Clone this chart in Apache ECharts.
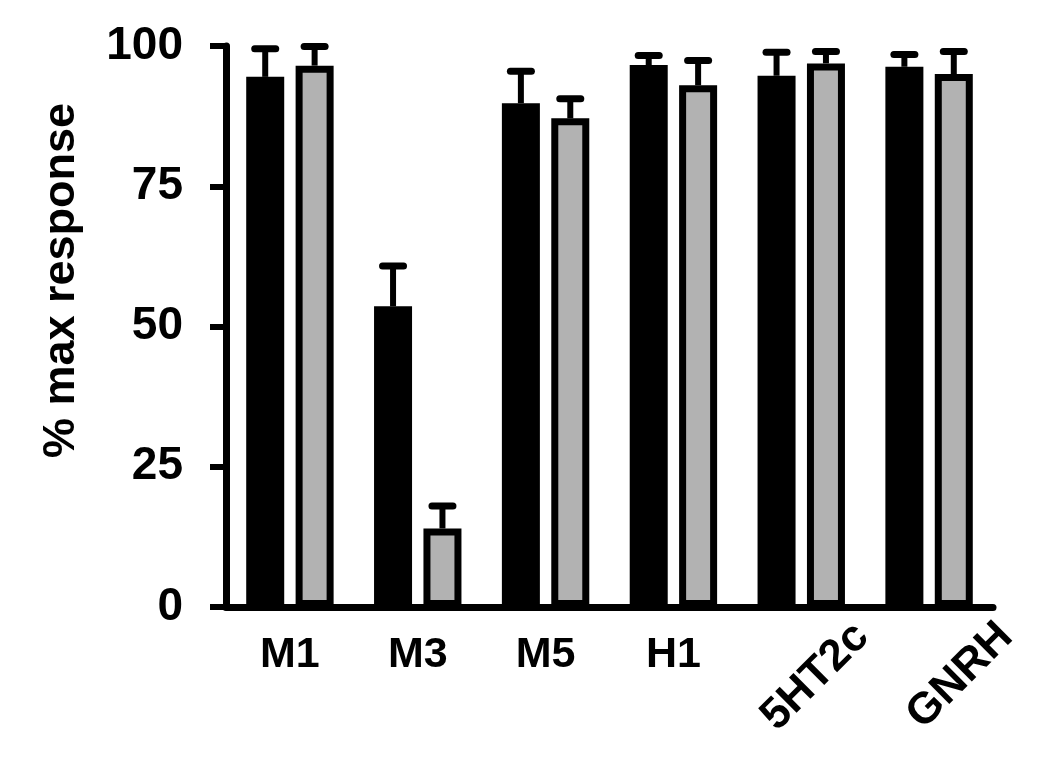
<!DOCTYPE html>
<html>
<head>
<meta charset="utf-8">
<script src="https://cdn.jsdelivr.net/npm/echarts@6/dist/echarts.min.js"></script>
<style>
html,body{margin:0;padding:0;background:#fff;}
#chart{width:1050px;height:767px;}
</style>
</head>
<body>
<div id="chart"></div>
<script>
// ---- data ----
const categories = ['M1', 'M3', 'M5', 'H1', '5HT2c', 'GNRH'];
const rotatedLabels = ['5HT2c', 'GNRH'];
const blackValues = [94.5, 53.6, 89.8, 96.6, 94.7, 96.3];
const grayValues  = [96.5, 14.0, 87.1, 93.0, 96.9, 95.0];
const blackErrTop = [99.5, 60.8, 95.5, 98.3, 98.9, 98.5];
const grayErrTop  = [99.9, 18.0, 90.6, 97.4, 99.0, 99.0];
const yMin = 0, yMax = 100, yStep = 25;

// ---- style constants ----
const BAR_W = 38, BAR_GAP = 0.3, BORDER = 7;
const GRAY = '#b2b2b2';
const FONT = 'Liberation Sans';

const chart = echarts.init(document.getElementById('chart'), null, {renderer: 'canvas'});

function errSeries(values, tops, side) {
  return {
    type: 'custom',
    xAxisIndex: 0, yAxisIndex: 0,
    z: 5,
    silent: true,
    data: values.map((v, i) => [i, v, tops[i]]),
    encode: {x: 0, y: [1, 2]},
    renderItem: function (params, api) {
      const idx = api.value(0);
      const lo = api.coord([idx, api.value(1)]);
      const hi = api.coord([idx, api.value(2)]);
      const off = side * BAR_W * (1 + BAR_GAP) / 2;
      const cx = lo[0] + off;
      return {
        type: 'group',
        children: [
          {type: 'line', shape: {x1: cx, y1: lo[1], x2: cx, y2: hi[1]},
           style: {stroke: '#000', lineWidth: 6}},
          {type: 'line', shape: {x1: cx - 10.5, y1: hi[1], x2: cx + 10.5, y2: hi[1]},
           style: {stroke: '#000', lineWidth: 7, lineCap: 'round'}}
        ]
      };
    }
  };
}

const option = {
  backgroundColor: '#fff',
  animation: false,
  grid: [
    {left: 226, right: 57, top: 46, bottom: 160, outerBoundsMode: 'none', containLabel: false},
    {left: 214, width: 864, top: 46, bottom: 160, outerBoundsMode: 'none', containLabel: false}
  ],
  xAxis: [
    {
      type: 'category', gridIndex: 0, data: categories,
      axisLine: {lineStyle: {color: '#000', width: 7}},
      axisTick: {alignWithLabel: true, length: 16, lineStyle: {color: '#000', width: 7}},
      axisLabel: {
        color: '#000', fontFamily: FONT, fontWeight: 'bold', fontSize: 43, margin: 27,
        interval: 0,
        formatter: v => rotatedLabels.includes(v) ? '' : v
      },
      splitLine: {show: false}
    },
    {
      type: 'category', gridIndex: 1, data: categories,
      axisLine: {show: false}, axisTick: {show: false},
      axisLabel: {
        color: '#000', fontFamily: FONT, fontWeight: 'bold', fontSize: 44, margin: 23,
        rotate: 45, interval: 0,
        formatter: v => rotatedLabels.includes(v) ? v : ''
      },
      splitLine: {show: false}
    }
  ],
  yAxis: [
    {
      type: 'value', gridIndex: 0, min: yMin, max: yMax, interval: yStep,
      name: '% max response', nameLocation: 'middle', nameRotate: 90, nameGap: 142,
      nameTextStyle: {color: '#000', fontFamily: FONT, fontWeight: 'bold', fontSize: 45,
                      padding: [0, 0, 0, 92], verticalAlign: 'bottom'},
      axisLine: {show: true, lineStyle: {color: '#000', width: 7}},
      axisTick: {show: true, length: 16, lineStyle: {color: '#000', width: 6}},
      axisLabel: {color: '#000', fontFamily: FONT, fontWeight: 'bold', fontSize: 46, margin: 43},
      splitLine: {show: false}
    },
    {
      type: 'value', gridIndex: 1, min: yMin, max: yMax, interval: yStep, show: false
    }
  ],
  series: [
    {
      name: 'black', type: 'bar', xAxisIndex: 0, yAxisIndex: 0,
      data: blackValues, barWidth: BAR_W, barGap: (BAR_GAP * 100) + '%',
      itemStyle: {color: '#000', borderColor: '#000', borderWidth: BORDER}
    },
    {
      name: 'gray', type: 'bar', xAxisIndex: 0, yAxisIndex: 0,
      data: grayValues, barWidth: BAR_W, barGap: (BAR_GAP * 100) + '%',
      itemStyle: {color: GRAY, borderColor: '#000', borderWidth: BORDER}
    },
    errSeries(blackValues, blackErrTop, -1),
    errSeries(grayValues, grayErrTop, 1)
  ]
};
chart.setOption(option);
</script>
</body>
</html>
